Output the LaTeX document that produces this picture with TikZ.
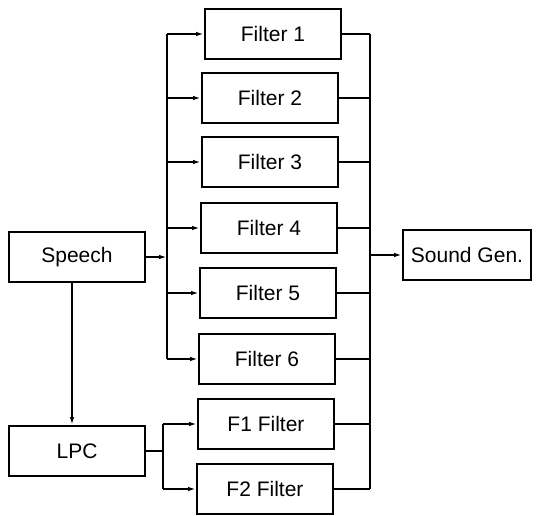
\documentclass[tikz,border=0pt]{standalone}
\usepackage{fontspec}
\setmainfont{Liberation Sans}
\usetikzlibrary{arrows.meta}

\tikzset{
    blk/.style={draw, line width=2pt, minimum width=136pt, minimum height=50pt,
        inner sep=0pt, font=\fontsize{21}{25}\selectfont},
    wire/.style={line width=2pt},
    arr/.style={wire, -{Latex[length=8pt,width=4.5pt]}}
}

\begin{document}
\begin{tikzpicture}[x=1pt, y=-1pt]
    \useasboundingbox (0,0) rectangle (536,516);

    % input and analysis
    \node[blk] (spch) at (77,257) {Speech};
    \node[blk] (lpc) at (77,451) {LPC};

    % filter bank
    \node[blk] (f1) at (273,34) {Filter 1};
    \node[blk] (f2) at (270,98) {Filter 2};
    \node[blk] (f3) at (270,162) {Filter 3};
    \node[blk] (f4) at (269,228) {Filter 4};
    \node[blk] (f5) at (268,293) {Filter 5};
    \node[blk] (f6) at (267,359) {Filter 6};
    \node[blk] (g1) at (266,424) {F1 Filter};
    \node[blk] (g2) at (265,489) {F2 Filter};

    % output
    \node[blk, minimum width=128pt] (snd) at (467,255) {Sound Gen.};

    % bus lines
    \coordinate (lbus) at (167,0);
    \coordinate (rbus) at (370,0);
    \coordinate (pbus) at (163,0);

    \draw[arr] (spch.east) -- (spch.east -| lbus);
    \draw[wire] (f1.west -| lbus) -- (f6.west -| lbus);
    \foreach \f in {f1,f2,f3,f4,f5,f6} {
        \draw[arr] (\f.west -| lbus) -- (\f.west);
    }

    \draw[arr] ([xshift=-5pt]spch.south) -- ([xshift=-5pt]lpc.north);
    \draw[wire] (lpc.east) -- (lpc.east -| pbus);
    \draw[wire] (g1.west -| pbus) -- (g2.west -| pbus);
    \draw[arr] (g1.west -| pbus) -- (g1.west);
    \draw[arr] (g2.west -| pbus) -- (g2.west);

    \draw[wire] (f1.east -| rbus) -- (g2.east -| rbus);
    \foreach \f in {f1,f2,f3,f4,f5,f6,g1,g2} {
        \draw[wire] (\f.east) -- (\f.east -| rbus);
    }
    \draw[arr] (snd.west -| rbus) -- (snd.west);
\end{tikzpicture}
\end{document}
